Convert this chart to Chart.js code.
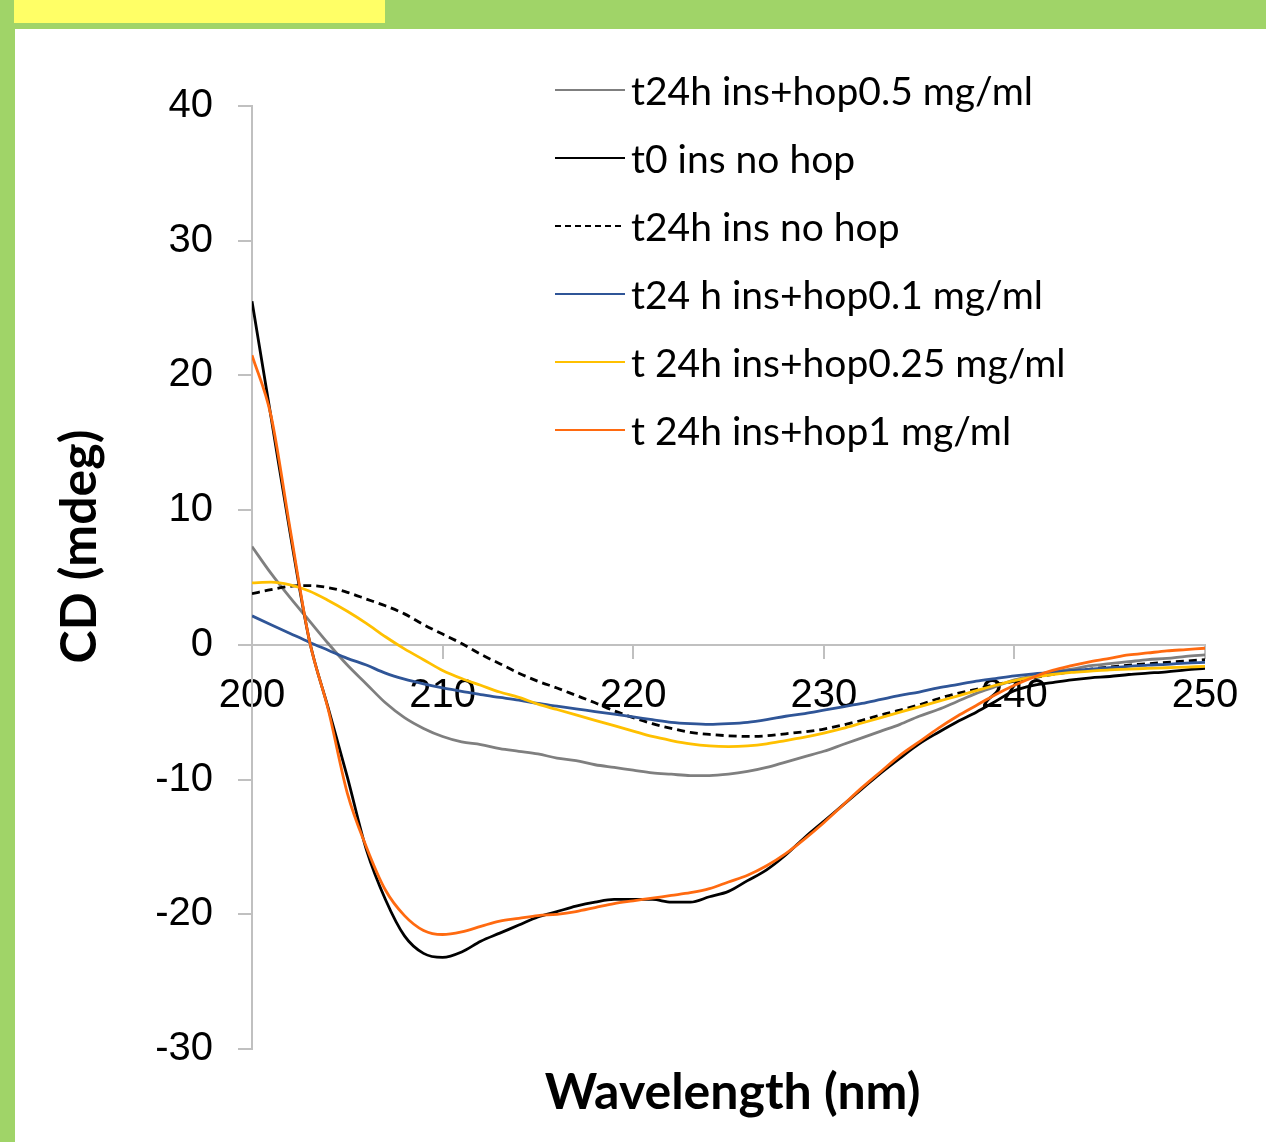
<!DOCTYPE html>
<html>
<head>
<meta charset="utf-8">
<title>CD spectra</title>
<script src="https://cdn.jsdelivr.net/npm/chart.js@4.4.1/dist/chart.umd.min.js"></script>
<style>
  html, body { margin: 0; padding: 0; background: #fff; }
  #page { position: relative; width: 1266px; height: 1142px; overflow: hidden; background: #fff; }
  .bar-top { position: absolute; left: 0; top: 0; width: 1266px; height: 29px; background: #a0d468; }
  .bar-left { position: absolute; left: 0; top: 0; width: 15px; height: 1142px; background: #a0d468; }
  .tab { position: absolute; left: 14px; top: 0; width: 371px; height: 23px; background: #ffff66; }
  #cd-chart { position: absolute; left: 0; top: 0; }
  #cd-legend { position: absolute; left: 555px; top: 56px; font-family: Lato, 'Open Sans', sans-serif; font-size: 39px; color: #000; }
  .leg-row { height: 68px; display: flex; align-items: center; white-space: nowrap; }
  .leg-line { width: 70px; height: 2.5px; margin-right: 6px; }
</style>
</head>
<body>
<div id="page">
  <div class="bar-top"></div>
  <div class="bar-left"></div>
  <div class="tab"></div>
  <canvas id="cd-chart" width="1266" height="1142"></canvas>
  <div id="cd-legend"></div>
</div>
<script>
(function() {
  'use strict';

  var AXIS = '#c0c0c0';
  var X_TITLE = 'Wavelength (nm)', Y_TITLE = 'CD (mdeg)';
  var X_TICKS = [200, 210, 220, 230, 240, 250];
  var Y_TICKS = [-30, -20, -10, 0, 10, 20, 30, 40];

  var WAVELENGTH = [200, 201, 202, 203, 204, 205, 206, 207, 208, 209,
    210, 211, 212, 213, 214, 215, 216, 217, 218, 219,
    220, 221, 222, 223, 224, 225, 226, 227, 228, 229,
    230, 231, 232, 233, 234, 235, 236, 237, 238, 239,
    240, 241, 242, 243, 244, 245, 246, 247, 248, 249, 250];

  // mdeg, one value per nm
  var HOP_05 = [7.3, 5.3, 3.5, 1.8, 0.1, -1.5, -2.9, -4.3, -5.4, -6.2,
    -6.8, -7.2, -7.4, -7.7, -7.9, -8.1, -8.4, -8.6, -8.9, -9.1,
    -9.3, -9.5, -9.6, -9.7, -9.7, -9.6, -9.4, -9.1, -8.7, -8.3,
    -7.9, -7.4, -6.9, -6.4, -5.9, -5.3, -4.8, -4.2, -3.6, -3.1,
    -2.6, -2.3, -2.0, -1.8, -1.55, -1.4, -1.25, -1.1, -1.0, -0.85, -0.74];
  var T0_NO_HOP = [25.5, 16.9, 8.3, 0.4, -4.7, -9.8, -15.2, -18.9, -21.6, -22.9,
    -23.2, -22.8, -22.0, -21.4, -20.8, -20.2, -19.8, -19.4, -19.1, -18.9,
    -18.9, -18.9, -19.1, -19.1, -18.7, -18.3, -17.5, -16.7, -15.6, -14.3,
    -13.1, -11.9, -10.7, -9.5, -8.4, -7.35, -6.5, -5.7, -5.0, -4.2,
    -3.4, -3.0, -2.8, -2.6, -2.45, -2.35, -2.2, -2.1, -2.0, -1.85, -1.75];
  var T24_NO_HOP = [3.8, 4.1, 4.35, 4.4, 4.25, 3.9, 3.4, 2.9, 2.3, 1.5,
    0.8, 0.1, -0.7, -1.4, -2.1, -2.7, -3.2, -3.75, -4.3, -4.9,
    -5.4, -5.85, -6.2, -6.5, -6.65, -6.75, -6.8, -6.75, -6.6, -6.45,
    -6.25, -5.95, -5.6, -5.2, -4.85, -4.45, -4.0, -3.6, -3.3, -2.95,
    -2.7, -2.45, -2.2, -2.0, -1.8, -1.65, -1.5, -1.4, -1.3, -1.2, -1.1];
  var HOP_01 = [2.15, 1.5, 0.85, 0.2, -0.4, -1.0, -1.5, -2.1, -2.55, -2.9,
    -3.2, -3.45, -3.7, -3.9, -4.1, -4.35, -4.55, -4.75, -4.95, -5.15,
    -5.35, -5.55, -5.75, -5.85, -5.9, -5.85, -5.75, -5.55, -5.3, -5.1,
    -4.85, -4.6, -4.35, -4.05, -3.75, -3.5, -3.2, -2.95, -2.7, -2.5,
    -2.3, -2.15, -2.05, -1.9, -1.8, -1.7, -1.6, -1.5, -1.45, -1.35, -1.3];
  var HOP_025 = [4.6, 4.65, 4.45, 4.0, 3.3, 2.5, 1.6, 0.6, -0.3, -1.1,
    -1.9, -2.5, -3.0, -3.5, -3.9, -4.4, -4.8, -5.2, -5.6, -6.0,
    -6.4, -6.8, -7.1, -7.35, -7.5, -7.55, -7.5, -7.35, -7.1, -6.85,
    -6.55, -6.2, -5.8, -5.4, -5.0, -4.6, -4.2, -3.8, -3.4, -3.0,
    -2.65, -2.4, -2.2, -2.05, -1.95, -1.85, -1.8, -1.75, -1.7, -1.65, -1.6];
  var HOP_1 = [21.5, 17.0, 8.6, 0.4, -4.8, -11.0, -15.0, -18.2, -20.1, -21.2,
    -21.5, -21.3, -20.9, -20.5, -20.3, -20.1, -20.0, -19.8, -19.5, -19.2,
    -19.0, -18.8, -18.6, -18.4, -18.1, -17.6, -17.1, -16.4, -15.5, -14.4,
    -13.2, -11.9, -10.6, -9.4, -8.2, -7.2, -6.2, -5.3, -4.5, -3.7,
    -3.0, -2.4, -1.9, -1.55, -1.25, -1.0, -0.75, -0.6, -0.45, -0.35, -0.25];

  var SERIES = [
    { label: 't24h ins+hop0.5 mg/ml', data: HOP_05, color: '#7f7f7f' },
    { label: 't0 ins no hop', data: T0_NO_HOP, color: '#000000' },
    { label: 't24h ins no hop', data: T24_NO_HOP, color: '#000000', dash: [8, 5] },
    { label: 't24 h ins+hop0.1 mg/ml', data: HOP_01, color: '#2f5597' },
    { label: 't 24h ins+hop0.25 mg/ml', data: HOP_025, color: '#ffc000' },
    { label: 't 24h ins+hop1 mg/ml', data: HOP_1, color: '#ff6a10' }
  ];

  function points(vals) {
    return WAVELENGTH.map(function(w, i) { return { x: w, y: vals[i] }; });
  }

  function fixedTicks(list) {
    return function(scale) { scale.ticks = list.map(function(v) { return { value: v }; }); };
  }

  // axis titles drawn relative to the plot area
  var axisTitles = {
    id: 'axisTitles',
    afterDraw: function(chart) {
      var ctx = chart.ctx, a = chart.chartArea;
      ctx.save();
      ctx.fillStyle = '#000';
      ctx.font = 'bold 50px Lato';
      ctx.textAlign = 'center';
      ctx.textBaseline = 'middle';
      ctx.fillText(X_TITLE, (a.left + a.right) / 2 + 4, a.bottom + 44);
      ctx.translate(80, (a.top + a.bottom) / 2 - 31);
      ctx.rotate(-Math.PI / 2);
      ctx.fillText(Y_TITLE, 0, 0);
      ctx.restore();
    }
  };

  var n = SERIES.length;
  new Chart(document.getElementById('cd-chart'), {
    type: 'line',
    data: {
      datasets: SERIES.map(function(s, i) {
        return {
          label: s.label, data: points(s.data), borderColor: s.color, backgroundColor: s.color,
          borderWidth: 2.8, borderDash: s.dash || [], pointRadius: 0, fill: false,
          cubicInterpolationMode: 'monotone', order: n - i
        };
      })
    },
    options: {
      responsive: false, animation: false,
      layout: { padding: { top: 106, right: 61, bottom: 93, left: 0 } },
      plugins: { legend: { display: false }, tooltip: { enabled: false } },
      scales: {
        x: {
          type: 'linear', min: 200, max: 250, position: { y: 0 }, z: 1,
          border: { color: AXIS, width: 2 },
          grid: { drawOnChartArea: false, drawTicks: true, tickLength: 13, color: AXIS, lineWidth: 2 },
          ticks: { color: '#000', padding: 14, maxRotation: 0, font: { family: 'Liberation Sans', size: 40 } },
          afterBuildTicks: fixedTicks(X_TICKS)
        },
        y: {
          type: 'linear', min: -30, max: 40, position: 'left',
          border: { color: AXIS, width: 2 },
          grid: { drawOnChartArea: false, drawTicks: true, tickLength: 14, color: AXIS, lineWidth: 2 },
          ticks: { color: '#000', padding: 25, font: { family: 'Liberation Sans', size: 40 } },
          afterBuildTicks: fixedTicks(Y_TICKS),
          afterFit: function(s) { s.width = 252; }
        }
      }
    },
    plugins: [axisTitles]
  });

  document.getElementById('cd-legend').innerHTML = SERIES.map(function(s) {
    var bg = s.dash
      ? 'height:2px;background:repeating-linear-gradient(90deg,' + s.color + ' 0 6px,transparent 6px 10px)'
      : 'background:' + s.color;
    return '<div class="leg-row"><div class="leg-line" style="' + bg + '"></div>' + s.label + '</div>';
  }).join('');
})();
</script>
</body>
</html>
